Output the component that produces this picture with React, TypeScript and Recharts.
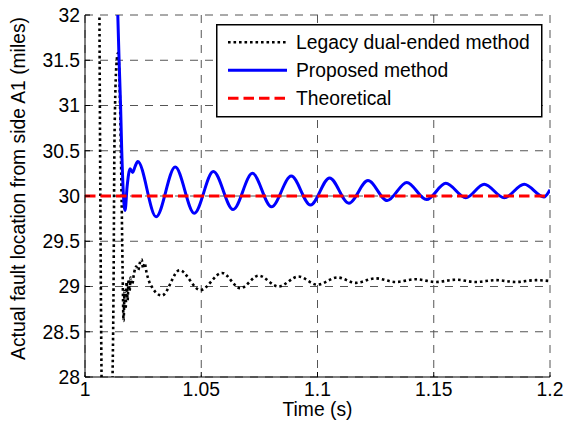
import React from 'react';
import { LineChart, Line, XAxis, YAxis, CartesianGrid, Legend, Label } from 'recharts';

const FONT = '"Liberation Sans", Arial, sans-serif';
const FS = 19.3;

const xTicks = [1, 1.05, 1.1, 1.15, 1.2];
const yTicks = [28, 28.5, 29, 29.5, 30, 30.5, 31, 31.5, 32];
const seriesNames = ['Legacy dual-ended method', 'Proposed method', 'Theoretical'];
const xLabel = 'Time (s)';
const yLabel = 'Actual fault location from side A1 (miles)';

const legacyTime = [
  1.00614, 1.00744, 1.0114, 1.0116, 1.01185, 1.01228, 1.01263, 1.01293, 1.01366, 1.01422,
  1.01509, 1.01573, 1.01616, 1.01659, 1.01703, 1.01746, 1.01789, 1.01832, 1.01875, 1.01918,
  1.01961, 1.02026, 1.02112, 1.02198, 1.02284, 1.02371, 1.02435, 1.025, 1.02565, 1.02651,
  1.02802, 1.03306, 1.04065, 1.04957, 1.05892, 1.06681, 1.0747, 1.08319, 1.09181, 1.09987,
  1.10862, 1.11638, 1.125, 1.13362, 1.14224, 1.15086, 1.15948, 1.1681, 1.17672, 1.18534,
  1.19397, 1.2,
];
const legacyValue = [
  32.4, 27.6, 27.6, 27.6, 28.0, 29.0, 30.5, 31.0, 31.5, 31.58,
  31.0, 30.0, 29.2, 28.62, 28.95, 28.75, 29.05, 28.85, 29.08, 28.95,
  29.1, 29.02, 29.15, 29.22, 29.18, 29.27, 29.3, 29.2, 29.26, 29.15,
  29.03, 28.9, 29.18, 28.96, 29.15, 28.98, 29.12, 29.0, 29.11, 29.02,
  29.1, 29.04, 29.09, 29.05, 29.08, 29.05, 29.075, 29.05, 29.07, 29.05,
  29.07, 29.06,
];

const proposedTime = [
  1.01366, 1.01466, 1.0153, 1.0158, 1.01724, 1.0181, 1.0194, 1.0205, 1.0216, 1.0227,
  1.0306, 1.0388, 1.047, 1.0552, 1.0637, 1.072, 1.0802, 1.0887, 1.097, 1.1052,
  1.1135, 1.1217, 1.13, 1.1384, 1.1469, 1.1552, 1.1638, 1.1717, 1.1803, 1.1889,
  1.1974, 1.2,
];
const proposedValue = [
  32.4, 31.5, 31.0, 30.5, 29.84, 30.1, 30.3, 30.26, 30.33, 30.38,
  29.77, 30.32, 29.81, 30.27, 29.85, 30.25, 29.88, 30.22, 29.9, 30.2,
  29.92, 30.17, 29.95, 30.15, 29.96, 30.14, 29.98, 30.13, 29.98, 30.13,
  29.99, 30.07,
];

const theoreticalTime = [1, 1.2];
const theoreticalValue = [30, 30];

const zip = (ts: number[], vs: number[]) => ts.map((t, i) => ({ t, v: vs[i] }));
const legacyData = zip(legacyTime, legacyValue);
const proposedData = zip(proposedTime, proposedValue);
const theoreticalData = zip(theoreticalTime, theoreticalValue);

const legacyStyle = { stroke: '#000000', strokeWidth: 2.6, strokeDasharray: '2.6 2.9' };
const proposedStyle = { stroke: '#0000ff', strokeWidth: 3, strokeDasharray: undefined as any };
const theoreticalStyle = { stroke: '#ff0000', strokeWidth: 3, strokeDasharray: '10.5 5' };
const styles = [legacyStyle, proposedStyle, theoreticalStyle];

const renderLegend = () => (
  <svg width={327} height={94} style={{ display: 'block' }}>
    <rect x={0.75} y={0.75} width={325} height={92} fill="#ffffff" stroke="#000000" strokeWidth={1.5} />
    {seriesNames.map((name, i) => {
      const cy = 18.3 + i * 28;
      const s = styles[i];
      return (
        <g key={name}>
          <line x1={12} x2={71} y1={cy} y2={cy} stroke={s.stroke} strokeWidth={s.strokeWidth} strokeDasharray={s.strokeDasharray} />
          <text x={80} y={cy + 6.9} fontSize={FS} fontFamily={FONT} fill="#000">{name}</text>
        </g>
      );
    })}
  </svg>
);

const renderYLabel = () => (
  <text x={25} y={188.5} transform="rotate(-90, 25, 188.5)" textAnchor="middle" fontSize={FS} fontFamily={FONT} fill="#000">
    {yLabel}
  </text>
);

const renderXLabel = () => (
  <text x={317.5} y={416} textAnchor="middle" fontSize={FS} fontFamily={FONT} fill="#000">
    {xLabel}
  </text>
);

export default function App() {
  const tickStyle = { fontSize: FS, fill: '#000', fontFamily: FONT };
  return (
    <div style={{ position: 'absolute', left: 0, top: 0, width: 565, height: 430, background: '#fff' }}>
      <LineChart width={565} height={430} margin={{ top: 15, right: 15, bottom: 0, left: 0 }}>
        <CartesianGrid stroke="#555" strokeDasharray="8 7" strokeWidth={1} />
        <XAxis
          type="number"
          dataKey="t"
          domain={[1, 1.2]}
          ticks={xTicks}
          interval={0}
          allowDataOverflow
          height={53}
          tick={tickStyle}
          tickSize={-5}
          tickMargin={10}
          axisLine={{ stroke: '#000', strokeWidth: 1 }}
          tickLine={{ stroke: '#000', strokeWidth: 1 }}
        >
          <Label content={renderXLabel} />
        </XAxis>
        <YAxis
          type="number"
          domain={[28, 32]}
          ticks={yTicks}
          interval={0}
          allowDataOverflow
          width={85}
          tick={tickStyle}
          tickSize={-5}
          tickMargin={10}
          axisLine={{ stroke: '#000', strokeWidth: 1 }}
          tickLine={{ stroke: '#000', strokeWidth: 1 }}
        >
          <Label content={renderYLabel} />
        </YAxis>
        <Line
          data={legacyData}
          dataKey="v"
          name={seriesNames[0]}
          type="monotone"
          stroke={legacyStyle.stroke}
          strokeWidth={legacyStyle.strokeWidth}
          strokeDasharray={legacyStyle.strokeDasharray}
          dot={false}
          activeDot={false}
          isAnimationActive={false}
        />
        <Line
          data={proposedData}
          dataKey="v"
          name={seriesNames[1]}
          type="monotone"
          stroke={proposedStyle.stroke}
          strokeWidth={proposedStyle.strokeWidth}
          dot={false}
          activeDot={false}
          isAnimationActive={false}
        />
        <Line
          data={theoreticalData}
          dataKey="v"
          name={seriesNames[2]}
          type="linear"
          stroke={theoreticalStyle.stroke}
          strokeWidth={theoreticalStyle.strokeWidth}
          strokeDasharray={theoreticalStyle.strokeDasharray}
          dot={false}
          activeDot={false}
          isAnimationActive={false}
        />
        <Legend
          layout="vertical"
          align="center"
          verticalAlign="middle"
          content={renderLegend}
          wrapperStyle={{ left: 216, top: 24, width: 327, height: 94 }}
        />
      </LineChart>
    </div>
  );
}
